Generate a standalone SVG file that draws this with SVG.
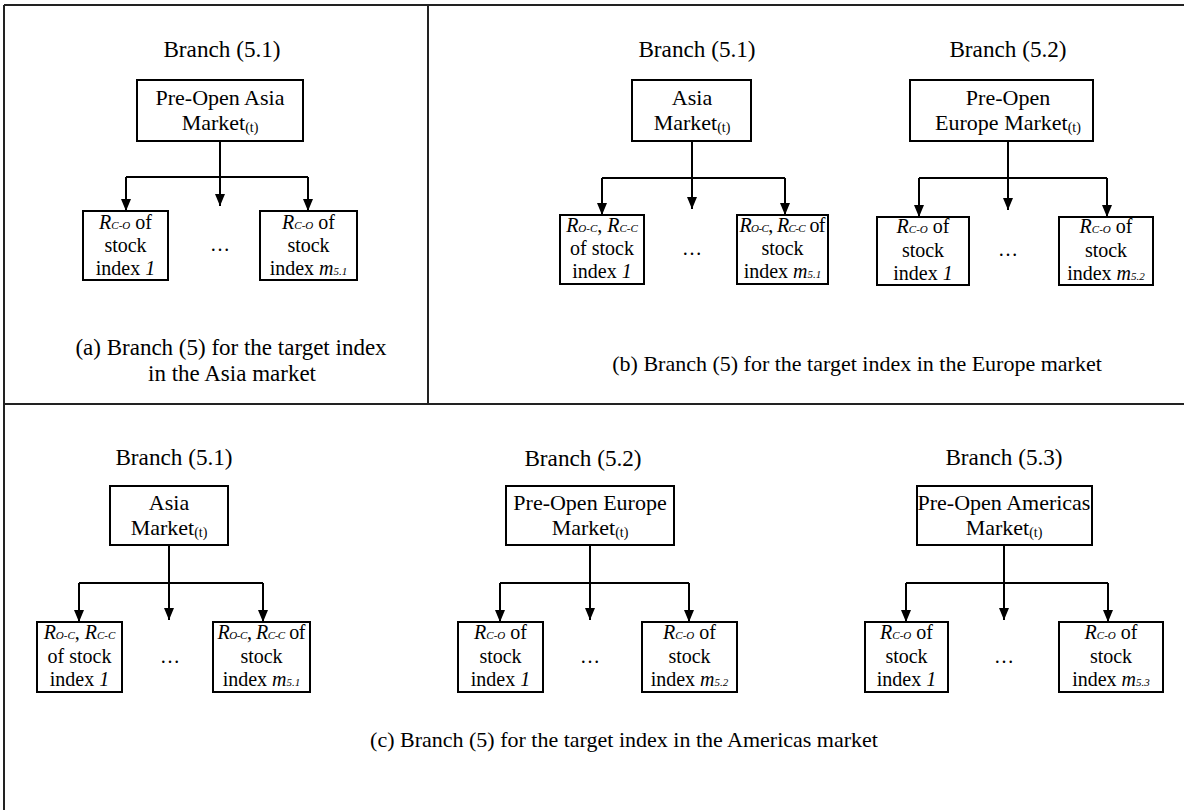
<svg xmlns="http://www.w3.org/2000/svg" width="1184" height="810" viewBox="0 0 1184 810">
<style>
text{font-family:"Liberation Serif","Times New Roman",serif;fill:#000;text-anchor:middle}
.lbl{font-size:23.2px}
.bt{font-size:22px}
.ct{font-size:20px}
.cap{font-size:23px}
.cap2{font-size:22px}
.sm{font-size:14px}
.sub{font-size:11px;font-style:italic}
.it{font-style:italic}
rect{fill:#fff;stroke:#000;stroke-width:2}
.frame line{stroke:#222;stroke-width:2}
.conn path{fill:none;stroke:#000;stroke-width:2}
</style>
<defs>
<marker id="ah" viewBox="0 0 12 10" refX="12" refY="5" markerWidth="12" markerHeight="10" markerUnits="userSpaceOnUse" orient="auto">
<path d="M0,0 L12,5 L0,10 Z" fill="#000"/>
</marker>
</defs>
<rect x="0" y="0" width="1184" height="810" style="fill:#fff;stroke:none"/>
<g class="frame">
<line x1="4" y1="5" x2="1184" y2="5"/>
<line x1="4" y1="5" x2="4" y2="810"/>
<line x1="428" y1="5" x2="428" y2="404"/>
<line x1="4" y1="404" x2="1184" y2="404"/>
</g>

<g class="conn">
<!-- a -->
<path d="M220,141 V206" marker-end="url(#ah)"/>
<path d="M126,177 H308"/>
<path d="M126,177 V211" marker-end="url(#ah)"/>
<path d="M308,177 V211" marker-end="url(#ah)"/>
<!-- b1 -->
<path d="M692,141 V209" marker-end="url(#ah)"/>
<path d="M602,178 H785"/>
<path d="M602,178 V215" marker-end="url(#ah)"/>
<path d="M785,178 V215" marker-end="url(#ah)"/>
<!-- b2 -->
<path d="M1008,141 V210" marker-end="url(#ah)"/>
<path d="M919,178 H1107"/>
<path d="M919,178 V217" marker-end="url(#ah)"/>
<path d="M1107,178 V217" marker-end="url(#ah)"/>
<!-- c1 -->
<path d="M169,545 V620" marker-end="url(#ah)"/>
<path d="M79,583 H263"/>
<path d="M79,583 V622" marker-end="url(#ah)"/>
<path d="M263,583 V622" marker-end="url(#ah)"/>
<!-- c2 -->
<path d="M590,545 V620" marker-end="url(#ah)"/>
<path d="M500,583 H689"/>
<path d="M500,583 V622" marker-end="url(#ah)"/>
<path d="M689,583 V622" marker-end="url(#ah)"/>
<!-- c3 -->
<path d="M1004,545 V620" marker-end="url(#ah)"/>
<path d="M906,583 H1108"/>
<path d="M906,583 V622" marker-end="url(#ah)"/>
<path d="M1108,583 V622" marker-end="url(#ah)"/>
</g>

<!-- Panel a -->
<g id="a-label"><text class="lbl" x="222" y="57">Branch (5.1)</text></g>
<g id="a-top">
<rect x="137" y="80" width="166" height="61"/>
<text class="bt" x="220" y="105">Pre-Open Asia</text>
<text class="bt" x="220" y="130">Market<tspan class="sm" dy="2">(t)</tspan></text>
</g>
<g id="a-c1">
<rect x="83" y="211" width="85" height="69"/>
<text class="ct" x="125.5" y="229"><tspan class="it">R</tspan><tspan class="sub">C-O</tspan> of</text>
<text class="ct" x="125.5" y="252">stock</text>
<text class="ct" x="125.5" y="275">index <tspan class="it">1</tspan></text>
</g>
<g id="a-dots"><text class="ct" x="220" y="251">…</text></g>
<g id="a-c2">
<rect x="260" y="211" width="97" height="69"/>
<text class="ct" x="308.5" y="229"><tspan class="it">R</tspan><tspan class="sub">C-O</tspan> of</text>
<text class="ct" x="308.5" y="252">stock</text>
<text class="ct" x="308.5" y="275">index <tspan class="it">m</tspan><tspan class="sub">5.1</tspan></text>
</g>
<g id="a-cap">
<text class="cap" x="231" y="355">(a) Branch (5) for the target index</text>
<text class="cap" x="232" y="381">in the Asia market</text>
</g>

<!-- Panel b left -->
<g id="b1-label"><text class="lbl" x="697" y="57">Branch (5.1)</text></g>
<g id="b1-top">
<rect x="632" y="80" width="119" height="61"/>
<text class="bt" x="692" y="105">Asia</text>
<text class="bt" x="692" y="130">Market<tspan class="sm" dy="2">(t)</tspan></text>
</g>
<g id="b1-c1">
<rect x="560" y="215" width="84" height="69"/>
<text class="ct" x="602" y="232"><tspan class="it">R</tspan><tspan class="sub">O-C</tspan>, <tspan class="it">R</tspan><tspan class="sub">C-C</tspan></text>
<text class="ct" x="602" y="255">of stock</text>
<text class="ct" x="602" y="278">index <tspan class="it">1</tspan></text>
</g>
<g id="b1-dots"><text class="ct" x="692" y="255">…</text></g>
<g id="b1-c2">
<rect x="737" y="215" width="91" height="69"/>
<text class="ct" x="782.5" y="232" textLength="86" lengthAdjust="spacing"><tspan class="it">R</tspan><tspan class="sub">O-C</tspan>, <tspan class="it">R</tspan><tspan class="sub">C-C</tspan> of</text>
<text class="ct" x="782.5" y="255">stock</text>
<text class="ct" x="782.5" y="278">index <tspan class="it">m</tspan><tspan class="sub">5.1</tspan></text>
</g>

<!-- Panel b right -->
<g id="b2-label"><text class="lbl" x="1008" y="57">Branch (5.2)</text></g>
<g id="b2-top">
<rect x="910" y="80" width="183" height="61"/>
<text class="bt" x="1008" y="105">Pre-Open</text>
<text class="bt" x="1008" y="130">Europe Market<tspan class="sm" dy="2">(t)</tspan></text>
</g>
<g id="b2-c1">
<rect x="877" y="217" width="92" height="68"/>
<text class="ct" x="923" y="233"><tspan class="it">R</tspan><tspan class="sub">C-O</tspan> of</text>
<text class="ct" x="923" y="257">stock</text>
<text class="ct" x="923" y="280">index <tspan class="it">1</tspan></text>
</g>
<g id="b2-dots"><text class="ct" x="1008" y="256">…</text></g>
<g id="b2-c2">
<rect x="1059" y="217" width="94" height="68"/>
<text class="ct" x="1106" y="233"><tspan class="it">R</tspan><tspan class="sub">C-O</tspan> of</text>
<text class="ct" x="1106" y="257">stock</text>
<text class="ct" x="1106" y="280">index <tspan class="it">m</tspan><tspan class="sub">5.2</tspan></text>
</g>
<g id="b-cap"><text class="cap2" x="857" y="371">(b) Branch (5) for the target index in the Europe market</text></g>

<!-- Panel c1 -->
<g id="c1-label"><text class="lbl" x="174" y="465">Branch (5.1)</text></g>
<g id="c1-top">
<rect x="110" y="486" width="118" height="59"/>
<text class="bt" x="169" y="510">Asia</text>
<text class="bt" x="169" y="535">Market<tspan class="sm" dy="2">(t)</tspan></text>
</g>
<g id="c1-c1">
<rect x="37" y="622" width="85" height="70"/>
<text class="ct" x="79.5" y="639"><tspan class="it">R</tspan><tspan class="sub">O-C</tspan>, <tspan class="it">R</tspan><tspan class="sub">C-C</tspan></text>
<text class="ct" x="79.5" y="663">of stock</text>
<text class="ct" x="79.5" y="686">index <tspan class="it">1</tspan></text>
</g>
<g id="c1-dots"><text class="ct" x="170" y="663">…</text></g>
<g id="c1-c2">
<rect x="213" y="622" width="97" height="70"/>
<text class="ct" x="261.5" y="639" textLength="88" lengthAdjust="spacing"><tspan class="it">R</tspan><tspan class="sub">O-C</tspan>, <tspan class="it">R</tspan><tspan class="sub">C-C</tspan> of</text>
<text class="ct" x="261.5" y="663">stock</text>
<text class="ct" x="261.5" y="686">index <tspan class="it">m</tspan><tspan class="sub">5.1</tspan></text>
</g>

<!-- Panel c2 -->
<g id="c2-label"><text class="lbl" x="583" y="466">Branch (5.2)</text></g>
<g id="c2-top">
<rect x="506" y="486" width="168" height="59"/>
<text class="bt" x="590" y="510">Pre-Open Europe</text>
<text class="bt" x="590" y="535">Market<tspan class="sm" dy="2">(t)</tspan></text>
</g>
<g id="c2-c1">
<rect x="458" y="622" width="85" height="70"/>
<text class="ct" x="500.5" y="639"><tspan class="it">R</tspan><tspan class="sub">C-O</tspan> of</text>
<text class="ct" x="500.5" y="663">stock</text>
<text class="ct" x="500.5" y="686">index <tspan class="it">1</tspan></text>
</g>
<g id="c2-dots"><text class="ct" x="590" y="663">…</text></g>
<g id="c2-c2">
<rect x="642" y="622" width="95" height="70"/>
<text class="ct" x="689.5" y="639"><tspan class="it">R</tspan><tspan class="sub">C-O</tspan> of</text>
<text class="ct" x="689.5" y="663">stock</text>
<text class="ct" x="689.5" y="686">index <tspan class="it">m</tspan><tspan class="sub">5.2</tspan></text>
</g>

<!-- Panel c3 -->
<g id="c3-label"><text class="lbl" x="1004" y="465">Branch (5.3)</text></g>
<g id="c3-top">
<rect x="917" y="486" width="175" height="59"/>
<text class="bt" x="1004" y="510">Pre-Open Americas</text>
<text class="bt" x="1004" y="535">Market<tspan class="sm" dy="2">(t)</tspan></text>
</g>
<g id="c3-c1">
<rect x="865" y="622" width="83" height="70"/>
<text class="ct" x="906.5" y="639"><tspan class="it">R</tspan><tspan class="sub">C-O</tspan> of</text>
<text class="ct" x="906.5" y="663">stock</text>
<text class="ct" x="906.5" y="686">index <tspan class="it">1</tspan></text>
</g>
<g id="c3-dots"><text class="ct" x="1004" y="663">…</text></g>
<g id="c3-c2">
<rect x="1059" y="622" width="104" height="70"/>
<text class="ct" x="1111" y="639"><tspan class="it">R</tspan><tspan class="sub">C-O</tspan> of</text>
<text class="ct" x="1111" y="663">stock</text>
<text class="ct" x="1111" y="686">index <tspan class="it">m</tspan><tspan class="sub">5.3</tspan></text>
</g>
<g id="c-cap"><text class="cap2" x="624" y="747">(c) Branch (5) for the target index in the Americas market</text></g>
</svg>
